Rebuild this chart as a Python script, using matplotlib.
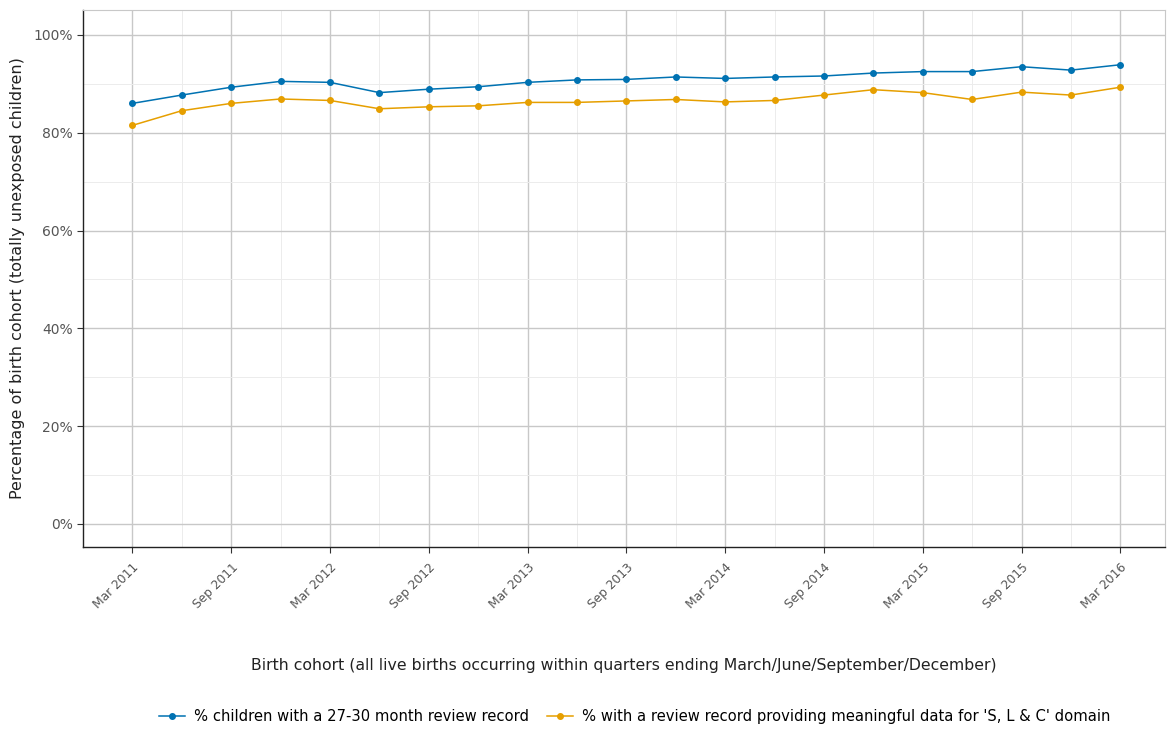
import matplotlib.pyplot as plt
from matplotlib.ticker import FuncFormatter, MultipleLocator

plt.rcParams['font.family'] = ['DejaVu Sans']

# quarterly birth cohorts, Mar 2011 .. Mar 2016
quarters = ['Mar 2011', 'Jun 2011', 'Sep 2011', 'Dec 2011', 'Mar 2012', 'Jun 2012',
            'Sep 2012', 'Dec 2012', 'Mar 2013', 'Jun 2013', 'Sep 2013', 'Dec 2013',
            'Mar 2014', 'Jun 2014', 'Sep 2014', 'Dec 2014', 'Mar 2015', 'Jun 2015',
            'Sep 2015', 'Dec 2015', 'Mar 2016']
review_record = [86.0, 87.7, 89.3, 90.5, 90.3, 88.2, 88.9, 89.4, 90.3, 90.8, 90.9,
                 91.4, 91.1, 91.4, 91.6, 92.2, 92.5, 92.5, 93.5, 92.8, 93.9]
slc_record = [81.5, 84.5, 86.0, 86.9, 86.6, 84.9, 85.3, 85.5, 86.2, 86.2, 86.5,
              86.8, 86.3, 86.6, 87.7, 88.8, 88.2, 86.8, 88.3, 87.7, 89.3]

x = list(range(len(quarters)))

fig = plt.figure(figsize=(11.67, 7.33), dpi=100)
ax = fig.add_axes([0.0711, 0.2538, 0.927, 0.7326])

ax.plot(x, review_record, color='#0072B2', lw=1.1, marker='o', ms=4,
        label='% children with a 27-30 month review record', zorder=3)
ax.plot(x, slc_record, color='#E69F00', lw=1.1, marker='o', ms=4,
        label="% with a review record providing meaningful data for 'S, L & C' domain", zorder=3)

ax.set_xlim(-1, 20.9)
ax.set_ylim(-4.7, 105.1)

ax.yaxis.set_major_locator(MultipleLocator(20))
ax.yaxis.set_minor_locator(MultipleLocator(10))
ax.yaxis.set_major_formatter(FuncFormatter(lambda v, p: f'{v:.0f}%'))
ax.set_xticks(x[::2])
ax.set_xticklabels(quarters[::2], rotation=45, ha='right', rotation_mode='anchor')
ax.set_xticks(x[1::2], minor=True)

ax.grid(True, which='major', color='#c8c8c8', lw=1.0)
ax.grid(True, which='minor', color='#ececec', lw=0.7)
ax.set_axisbelow(True)

ax.tick_params(which='major', length=4, width=0.8, color='#333333', labelcolor='#555555')
ax.tick_params(which='minor', length=0)
ax.tick_params(axis='x', pad=6, labelsize=8.8)
ax.tick_params(axis='y', labelsize=10)

for s in ['left', 'bottom']:
    ax.spines[s].set_color('#222222')
    ax.spines[s].set_linewidth(1.0)
for s in ['top', 'right']:
    ax.spines[s].set_color('#c8c8c8')

ax.set_xlabel('Birth cohort (all live births occurring within quarters ending March/June/September/December)',
              fontsize=11.3, color='#222222', labelpad=34)
ax.set_ylabel('Percentage of birth cohort (totally unexposed children)', fontsize=11.5, color='#222222', labelpad=6)

fig.legend(loc='center', bbox_to_anchor=(0.544, 0.022), ncol=2, frameon=False, fontsize=10.6,
           handlelength=1.8, columnspacing=1.2, handletextpad=0.6)

fig.savefig('out.png', dpi=100)
